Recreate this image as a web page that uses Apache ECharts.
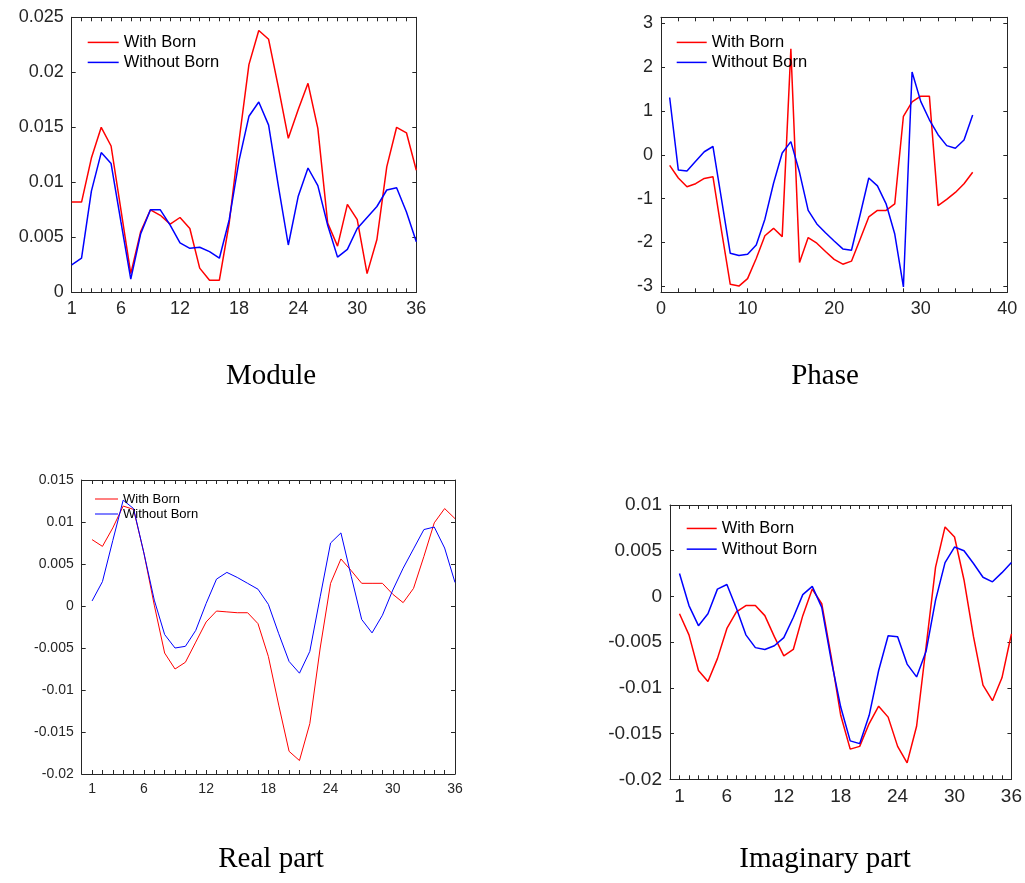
<!DOCTYPE html>
<html><head><meta charset="utf-8">
<script src="https://cdn.jsdelivr.net/npm/echarts@6/dist/echarts.min.js"></script>
<style>html,body{margin:0;padding:0;background:#fff}#c{width:1025px;height:883px}</style>
</head><body><div id="c"></div>
<script>
// ---- data ----
const sampleIndex = [1,2,3,4,5,6,7,8,9,10,11,12,13,14,15,16,17,18,19,20,21,22,23,24,25,26,27,28,29,30,31,32,33,34,35,36];
const indexTickLabels = [1,6,12,18,24,30,36];
const seriesNames = ['With Born','Without Born'];
const panelTitles = ['Module','Phase','Real part','Imaginary part'];

const moduleWith = [0.0082,0.0082,0.0122,0.0150,0.0133,0.0075,0.0017,0.0055,0.0075,0.0070,0.0062,0.0068,0.0058,0.0022,0.0011,0.0011,0.0063,0.0138,0.0207,0.0238,0.0230,0.0186,0.0140,0.0166,0.0190,0.0149,0.0063,0.0042,0.0080,0.0066,0.0017,0.0048,0.0114,0.0150,0.0145,0.0111];
const moduleWithout = [0.0025,0.0031,0.0092,0.0127,0.0117,0.0064,0.0012,0.0053,0.0075,0.0075,0.0061,0.0045,0.0040,0.0041,0.0037,0.0031,0.0066,0.0120,0.0160,0.0173,0.0152,0.0096,0.0043,0.0087,0.0113,0.0097,0.0061,0.0032,0.0039,0.0058,0.0068,0.0078,0.0093,0.0095,0.0073,0.0046];

const phaseWith = [-0.24,-0.53,-0.73,-0.66,-0.54,-0.50,-1.75,-2.96,-3.00,-2.83,-2.37,-1.85,-1.68,-1.87,2.42,-2.46,-1.89,-2.02,-2.21,-2.39,-2.50,-2.43,-1.93,-1.42,-1.27,-1.27,-1.12,0.88,1.21,1.34,1.34,-1.16,-1.02,-0.86,-0.66,-0.40];
const phaseWithout = [1.31,-0.35,-0.37,-0.15,0.07,0.19,-1.03,-2.25,-2.30,-2.27,-2.06,-1.47,-0.65,0.04,0.30,-0.40,-1.27,-1.58,-1.78,-1.97,-2.15,-2.18,-1.37,-0.53,-0.71,-1.12,-1.81,-3.02,1.89,1.22,0.80,0.46,0.21,0.15,0.34,0.91];

const realWith = [0.0079,0.0071,0.0093,0.0119,0.0115,0.0063,0.0001,-0.0056,-0.0075,-0.0067,-0.0043,-0.0019,-0.0006,-0.0007,-0.0008,-0.0008,-0.0021,-0.0060,-0.0118,-0.0173,-0.0184,-0.0140,-0.0050,0.0027,0.0056,0.0042,0.0027,0.0027,0.0027,0.0014,0.0004,0.0021,0.0059,0.0099,0.0116,0.0104];
const realWithout = [0.0006,0.0029,0.0078,0.0126,0.0116,0.0063,0.0007,-0.0034,-0.0050,-0.0048,-0.0029,0.0003,0.0032,0.0040,0.0034,0.0027,0.0020,0.0002,-0.0033,-0.0066,-0.0080,-0.0054,0.0011,0.0075,0.0087,0.0035,-0.0016,-0.0032,-0.0011,0.0019,0.0045,0.0068,0.0091,0.0094,0.0069,0.0028];

const imagWith = [-0.0019,-0.0042,-0.0081,-0.0093,-0.0068,-0.0035,-0.0017,-0.0010,-0.0010,-0.0021,-0.0044,-0.0065,-0.0058,-0.0021,0.0008,-0.0008,-0.0066,-0.0130,-0.0167,-0.0164,-0.0139,-0.0120,-0.0132,-0.0164,-0.0182,-0.0142,-0.0055,0.0032,0.0076,0.0065,0.0018,-0.0044,-0.0097,-0.0114,-0.0089,-0.0041];
const imagWithout = [0.0025,-0.0010,-0.0032,-0.0019,0.0008,0.0013,-0.0013,-0.0042,-0.0056,-0.0058,-0.0054,-0.0045,-0.0023,0.0002,0.0011,-0.0012,-0.0070,-0.0121,-0.0158,-0.0161,-0.0130,-0.0081,-0.0043,-0.0044,-0.0074,-0.0088,-0.0060,-0.0004,0.0037,0.0054,0.0050,0.0036,0.0021,0.0016,0.0026,0.0037];

// ---- layout ----
const AX = '#262626';
const FONT = '"Liberation Sans", Arial, sans-serif';
const panels = [
  {grid:{left:71.7, top:17.3, width:344.6, height:275}, x:{min:1,max:36,interval:1,kind:'idx'}, y:{min:0,max:0.025,interval:0.005}, fs:18, lw:1.5, data:[moduleWith,moduleWithout],
   legend:{left:87.7, top:32.9, itemWidth:31, itemHeight:1.5, lh:19, gap:1, fs:16.5}, title:{x:271,y:376}},
  {grid:{left:661, top:17.3, width:346.3, height:275}, x:{min:0,max:40,interval:10,kind:'num'}, y:{min:-Math.PI,max:Math.PI,kind:'phase'}, fs:18, lw:1.5, data:[phaseWith,phaseWithout],
   legend:{left:676.7, top:32.9, itemWidth:30, itemHeight:1.5, lh:19, gap:1, fs:16.5}, title:{x:825,y:376}},
  {grid:{left:81.7, top:480, width:373.3, height:294}, x:{min:0,max:36,interval:1,kind:'idx'}, y:{min:-0.02,max:0.015,interval:0.005}, fs:14, lw:1, data:[realWith,realWithout],
   legend:{left:95, top:491.5, itemWidth:23, itemHeight:1, lh:15, gap:0, fs:13}, title:{x:271,y:859}},
  {grid:{left:670, top:505, width:345, height:274.3}, x:{min:0,max:36,interval:1,kind:'idx'}, y:{min:-0.02,max:0.01,interval:0.005}, fs:19, lw:1.5, data:[imagWith,imagWithout],
   legend:{left:686.7, top:518.8, itemWidth:30, itemHeight:1.5, lh:19.3, gap:1.4, fs:16.5}, title:{x:825,y:859}}
];

const grids = [], xAxes = [], yAxes = [], series = [], legends = [], graphics = [];
function xAxisCfg(p, gi, mirror) {
  const a = {type:'value', gridIndex:gi, min:p.x.min, max:p.x.max, interval:p.x.interval,
    position: mirror ? 'top' : 'bottom',
    axisLine:{show:true, onZero:false, lineStyle:{color:AX, width:1}},
    axisTick:{show:true, inside:true, length:4, lineStyle:{color:AX}},
    splitLine:{show:false},
    axisLabel:{show:!mirror, color:AX, fontSize:p.fs, fontFamily:FONT, margin:8,
      formatter: v => p.x.kind==='idx' ? (indexTickLabels.includes(Math.round(v)) && Math.abs(v-Math.round(v))<1e-6 ? String(Math.round(v)) : '') : String(v)}
  };
  if (p.x.kind==='num') a.minorTick = {show:true, splitNumber:5, length:4, lineStyle:{color:AX}};
  return a;
}
function yAxisCfg(p, gi, mirror) {
  const a = {type:'value', gridIndex:gi, min:p.y.min, max:p.y.max,
    position: mirror ? 'right' : 'left',
    axisLine:{show:true, onZero:false, lineStyle:{color:AX, width:1}},
    axisTick:{show:true, inside:true, length:4, lineStyle:{color:AX}},
    splitLine:{show:false},
    axisLabel:{show:!mirror, color:AX, fontSize:p.fs, fontFamily:FONT, margin:8}
  };
  if (p.y.kind==='phase') {
    a.splitNumber = 6;
    a.axisLabel.formatter = v => Math.abs(v-Math.round(v))<1e-6 ? String(Math.round(v)) : '';
  } else {
    a.interval = p.y.interval;
    a.axisLabel.formatter = v => String(parseFloat(v.toFixed(6)));
  }
  return a;
}
panels.forEach((p) => { grids.push(Object.assign({containLabel:false}, p.grid)); });
panels.forEach((p, i) => { xAxes.push(xAxisCfg(p, i, false)); yAxes.push(yAxisCfg(p, i, false)); });
panels.forEach((p, i) => { xAxes.push(xAxisCfg(p, i, true)); yAxes.push(yAxisCfg(p, i, true)); });
const colors = ['#ff0000','#0000ff'];
panels.forEach((p, i) => {
  p.data.forEach((vals, k) => {
    series.push({type:'line', name:seriesNames[k], xAxisIndex:i, yAxisIndex:i,
      data: sampleIndex.map((x, j) => [x, vals[j]]),
      symbol:'none', showSymbol:false, silent:true, animation:false,
      lineStyle:{color:colors[k], width:p.lw}, itemStyle:{color:colors[k]}});
  });
  legends.push({show:true, orient:'vertical', left:p.legend.left, top:p.legend.top, padding:0,
    itemWidth:p.legend.itemWidth, itemHeight:p.legend.itemHeight, itemGap:p.legend.gap,
    icon:'rect', itemStyle:{borderWidth:0},
    data:seriesNames.slice(),
    textStyle:{color:'#000', fontSize:p.legend.fs, fontFamily:FONT, lineHeight:p.legend.lh}});
  graphics.push({type:'text', x:p.title.x, y:p.title.y,
    style:{text:panelTitles[i], fill:'#000', fontSize:29, fontFamily:'"Liberation Serif", "Times New Roman", serif', align:'center', verticalAlign:'middle'}});
});

const chart = echarts.init(document.getElementById('c'), null, {renderer:'canvas'});
chart.setOption({
  animation:false,
  backgroundColor:'#fff',
  grid:grids, xAxis:xAxes, yAxis:yAxes, series:series, legend:legends, graphic:graphics
});
</script>
</body></html>
